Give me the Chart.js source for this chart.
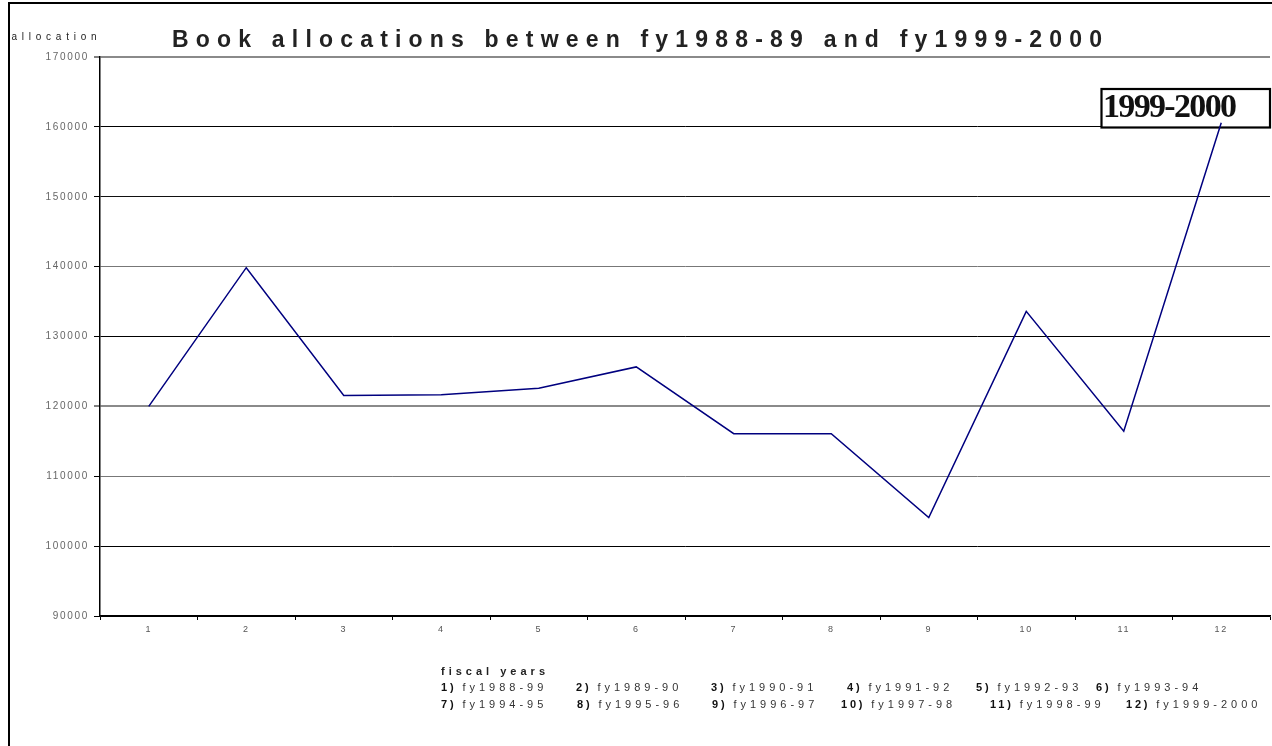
<!DOCTYPE html>
<html><head><meta charset="utf-8">
<script src="https://cdn.jsdelivr.net/npm/chart.js@4/dist/chart.umd.min.js"></script>
<style>html,body{margin:0;padding:0;background:#fff;overflow:hidden}#wrap{width:1272px;height:746px;position:relative}</style>
</head><body><div id="wrap"><canvas id="c" width="1272" height="746"></canvas></div>
<script>
const categories = ['1','2','3','4','5','6','7','8','9','10','11','12'];
const allocations = [120000, 139850, 121550, 121650, 122600, 125650, 116100, 116100, 104100, 133600, 116450, 160600];
const fiscalYears = ['fy1988-99','fy1989-90','fy1990-91','fy1991-92','fy1992-93','fy1993-94',
                     'fy1994-95','fy1995-96','fy1996-97','fy1997-98','fy1998-99','fy1999-2000'];
const yMin = 90000, yMax = 170000, yStep = 10000;
const chartTitle = 'Book allocations between fy1988-89 and fy1999-2000';
const yAxisTitle = 'allocation';
const xAxisTitle = 'fiscal years';
const callout = '1999-2000';

// style helpers (not data)
const gridStyle = {170000:['#8a8a8a',2],160000:['#000',1],150000:['#111',1],140000:['#777',1],
                   130000:['#000',1],120000:['#8a8a8a',2],110000:['#777',1],100000:['#000',1],90000:['#000',1]};
const legendNumX = [441,576,711,847,976,1096, 441,577,712,841,990,1126];

function fitText(ctx, text, x, y, width, font, color){
  ctx.save();
  ctx.font = font; ctx.letterSpacing = '0px';
  const w0 = ctx.measureText(text).width;
  const s = (width - w0) / Math.max(1, text.length - 1);
  ctx.letterSpacing = s + 'px';
  ctx.fillStyle = color; ctx.textAlign = 'left'; ctx.textBaseline = 'alphabetic';
  ctx.fillText(text, x, y);
  ctx.restore();
}

const decor = {
  id: 'decor',
  beforeDraw(chart){
    const ctx = chart.ctx;
    ctx.save(); ctx.fillStyle = '#fff'; ctx.fillRect(0,0,chart.width,chart.height); ctx.restore();
    ctx.letterSpacing = '1.7px';
  },
  beforeDatasetsDraw(chart){
    const ctx = chart.ctx;
    ctx.save();
    ctx.letterSpacing = '0px';
    ctx.fillStyle = '#fff';
    ctx.fillRect(1101.5, 89, 168.5, 38.5);
    ctx.strokeStyle = '#000'; ctx.lineWidth = 2.2;
    ctx.strokeRect(1101.5, 89, 168.5, 38.5);
    fitText(ctx, callout, 1103, 117, 134, 'bold 34px "Liberation Serif"', '#111');
    ctx.restore();
  },
  afterDraw(chart){
    const ctx = chart.ctx;
    ctx.save();
    ctx.letterSpacing = '0px';
    // outer frame
    ctx.strokeStyle = '#000'; ctx.lineWidth = 2;
    ctx.beginPath(); ctx.moveTo(9, 746); ctx.lineTo(9, 3); ctx.lineTo(1272, 3); ctx.stroke();
    // title
    fitText(ctx, chartTitle, 172, 46.5, 930, 'bold 23px "Liberation Sans"', '#222');
    // y axis title
    fitText(ctx, yAxisTitle, 11.5, 40, 85, '10px "Liberation Sans"', '#222');
    // x axis title and legend of fiscal years
    fitText(ctx, xAxisTitle, 441, 674.5, 104, 'bold 11px "Liberation Sans"', '#222');
    fiscalYears.forEach((fy, i) => {
      const row = i < 6 ? 0 : 1;
      const y = row === 0 ? 691 : 708;
      const x = legendNumX[i];
      ctx.save();
      ctx.textBaseline = 'alphabetic'; ctx.textAlign = 'left';
      ctx.letterSpacing = '2.8px';
      ctx.font = 'bold 11px "Liberation Sans"'; ctx.fillStyle = '#111';
      const num = (i + 1) + ')';
      ctx.fillText(num, x, y);
      const w = ctx.measureText(num).width;
      ctx.letterSpacing = '4px';
      ctx.font = '11px "Liberation Sans"'; ctx.fillStyle = '#333';
      ctx.fillText(fy, x + w + 6, y);
      ctx.restore();
    });
    ctx.restore();
  }
};

new Chart(document.getElementById('c'), {
  type: 'line',
  data: {
    labels: categories,
    datasets: [{
      label: 'allocation',
      data: allocations,
      borderColor: '#00007f',
      borderWidth: 1.5,
      pointRadius: 0,
      tension: 0,
      fill: false
    }]
  },
  options: {
    responsive: false,
    animation: false,
    devicePixelRatio: 1,
    layout: { padding: { top: 57, left: 0, right: 2, bottom: 0 } },
    plugins: { legend: { display: false }, title: { display: false }, tooltip: { enabled: false } },
    scales: {
      x: {
        offset: true,
        afterFit(s){ s.height = 130; },
        grid: { offset: true, drawOnChartArea: false, tickLength: 4, tickColor: '#000', color: '#000' },
        border: { display: true, color: '#000', width: 1.5 },
        ticks: { font: { family: 'Liberation Sans', size: 9 }, color: '#555', padding: 4, maxRotation: 0 }
      },
      y: {
        min: yMin, max: yMax,
        afterFit(s){ s.width = 100; },
        grid: {
          color: c => (gridStyle[c.tick && c.tick.value] || ['#888',1])[0],
          lineWidth: c => (gridStyle[c.tick && c.tick.value] || ['#888',1])[1],
          tickLength: 6, tickColor: '#000', tickWidth: 1
        },
        border: { display: true, color: '#000', width: 1.5 },
        ticks: { stepSize: yStep, font: { family: 'Liberation Sans', size: 10 }, color: '#666', padding: 5,
                 callback: v => String(v) }
      }
    }
  },
  plugins: [decor]
});
</script>
</body></html>
